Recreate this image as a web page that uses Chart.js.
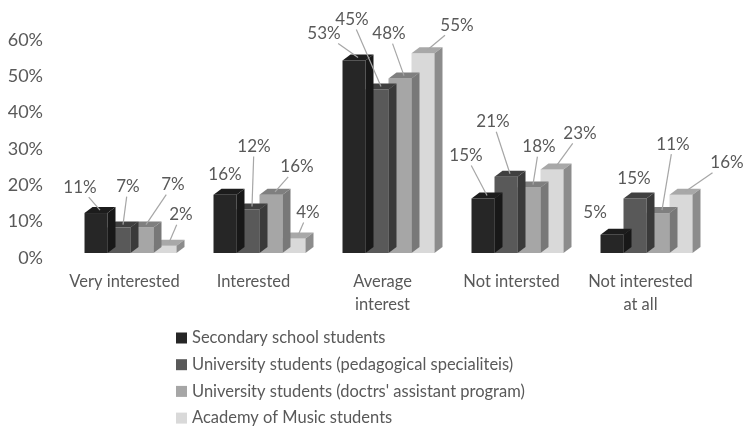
<!DOCTYPE html>
<html>
<head>
<meta charset="utf-8">
<script src="https://cdn.jsdelivr.net/npm/chart.js@4.4.0/dist/chart.umd.min.js"></script>
<style>
html, body { margin: 0; padding: 0; background: #fff; overflow: hidden; }
#wrap { width: 744px; height: 427px; position: relative; }
</style>
</head>
<body>
<div id="wrap"><canvas id="chart"></canvas></div>
<script>
// categories and series (values in %)
var categories = ['Very interested', 'Interested', ['Average', 'interest'], 'Not intersted', ['Not interested', 'at all']];
var seriesNames = [
    'Secondary school students',
    'University students (pedagogical specialiteis)',
    "University students (doctrs' assistant program)",
    'Academy of Music students'
];
var secondaryValues = [11, 16, 53, 15, 5];
var pedagogicalValues = [7, 12, 45, 21, 15];
var assistantValues = [7, 16, 48, 18, 11];
var musicValues = [2, 4, 55, 23, 16];
var yTickMax = 60;
var yTickStep = 10;

// greys: front, top and side faces of the 3D bars
var frontColors = ['#262626', '#595959', '#a6a6a6', '#d9d9d9'];
var topColors = ['#1c1c1c', '#404040', '#7f7f7f', '#a8a8a8'];
var sideColors = ['#181818', '#3a3a3a', '#787878', '#8c8c8c'];
var textColor = '#595959';
var fontFamily = 'Lato, "Open Sans", sans-serif';

// where each data label sits relative to its bar top (dx, dy in px)
var labelOffsets = [
    [[-16, -26], [0, -20], [-30, -27], [-17, -43], [-17, -22]],
    [[9, -41], [6, -63], [-25, -70], [-13, -55], [-1, -20]],
    [[31, -43], [26, -28], [-11, -45], [10, -41], [15, -69]],
    [[16, -31], [14, -26], [34, -28], [28, -36], [46, -32]]
];

var depthX = 8, depthY = 6;

// draws the top and side face of each bar right after its dataset
var bar3d = {
    id: 'bar3d',
    afterDatasetDraw: function(chart, args) {
        var ctx = chart.ctx;
        var i = args.index;
        ctx.save();
        args.meta.data.forEach(function(bar) {
            var p = bar.getProps(['x', 'y', 'base', 'width'], true);
            var l = p.x - p.width / 2, r = p.x + p.width / 2;
            ctx.fillStyle = topColors[i];
            ctx.beginPath();
            ctx.moveTo(l, p.y);
            ctx.lineTo(r, p.y);
            ctx.lineTo(r + depthX, p.y - depthY);
            ctx.lineTo(l + depthX, p.y - depthY);
            ctx.closePath();
            ctx.fill();
            ctx.fillStyle = sideColors[i];
            ctx.beginPath();
            ctx.moveTo(r, p.y);
            ctx.lineTo(r + depthX, p.y - depthY);
            ctx.lineTo(r + depthX, p.base - depthY);
            ctx.lineTo(r, p.base);
            ctx.closePath();
            ctx.fill();
        });
        ctx.restore();
    }
};

// value labels with leader lines
var valueLabels = {
    id: 'valueLabels',
    afterDatasetsDraw: function(chart) {
        var ctx = chart.ctx;
        ctx.save();
        ctx.font = '17px ' + fontFamily;
        ctx.textAlign = 'center';
        ctx.textBaseline = 'middle';
        chart.data.datasets.forEach(function(ds, i) {
            var meta = chart.getDatasetMeta(i);
            meta.data.forEach(function(bar, j) {
                var off = labelOffsets[i][j];
                var tx = bar.x + depthX / 2, ty = bar.y - depthY / 2;
                var lx = bar.x + off[0], ly = bar.y + off[1];
                var text = ds.data[j] + '%';
                var hw = ctx.measureText(text).width / 2 + 3, hh = 10;
                if (Math.abs(off[1]) > 23 || Math.abs(off[0]) > 20) {
                    var vx = tx - lx, vy = ty - ly;
                    var t = Math.min(hw / Math.abs(vx || 1e-6), hh / Math.abs(vy || 1e-6));
                    ctx.strokeStyle = '#a6a6a6';
                    ctx.lineWidth = 1.2;
                    ctx.beginPath();
                    ctx.moveTo(lx + vx * t, ly + vy * t);
                    ctx.lineTo(tx, ty);
                    ctx.stroke();
                }
                ctx.fillStyle = textColor;
                ctx.fillText(text, lx, ly);
            });
        });
        ctx.restore();
    }
};

// vertical legend under the axis
var sideLegend = {
    id: 'sideLegend',
    afterDraw: function(chart) {
        var ctx = chart.ctx;
        ctx.save();
        ctx.font = '16.5px ' + fontFamily;
        ctx.textBaseline = 'middle';
        ctx.textAlign = 'left';
        chart.data.datasets.forEach(function(ds, i) {
            var y = 338 + i * 26.7;
            ctx.fillStyle = frontColors[i];
            ctx.fillRect(176, y - 5.5, 11, 11);
            ctx.fillStyle = textColor;
            ctx.fillText(ds.label, 192, y);
        });
        ctx.restore();
    }
};

var seriesValues = [secondaryValues, pedagogicalValues, assistantValues, musicValues];

var ctx = document.getElementById('chart').getContext('2d');
var myChart = new Chart(ctx, {
    type: 'bar',
    data: {
        labels: categories,
        datasets: seriesNames.map(function(name, i) {
            return {
                label: name,
                data: seriesValues[i],
                backgroundColor: frontColors[i],
                borderWidth: 0,
                categoryPercentage: 0.713,
                barPercentage: 1
            };
        })
    },
    options: {
        responsive: true,
        maintainAspectRatio: false,
        animation: false,
        layout: { padding: { left: 0, right: 33, top: 35, bottom: 0 } },
        plugins: {
            legend: { display: false },
            tooltip: { enabled: false }
        },
        scales: {
            x: {
                grid: { display: false, drawTicks: false },
                border: { display: false },
                ticks: {
                    color: textColor,
                    font: { family: fontFamily, size: 16.5, lineHeight: 1.4 },
                    padding: 17,
                    labelOffset: -6,
                    maxRotation: 0,
                    autoSkip: false
                },
                afterFit: function(scale) { scale.height = 174; }
            },
            y: {
                min: 0,
                max: yTickMax,
                grid: { display: false, drawTicks: false },
                border: { display: false },
                ticks: {
                    stepSize: yTickStep,
                    color: textColor,
                    font: { family: fontFamily, size: 18 },
                    padding: 23,
                    labelOffset: 5,
                    callback: function(v) { return v + '%'; }
                },
                afterFit: function(scale) { scale.width = 66; }
            }
        }
    },
    plugins: [bar3d, valueLabels, sideLegend]
});
</script>
</body>
</html>
